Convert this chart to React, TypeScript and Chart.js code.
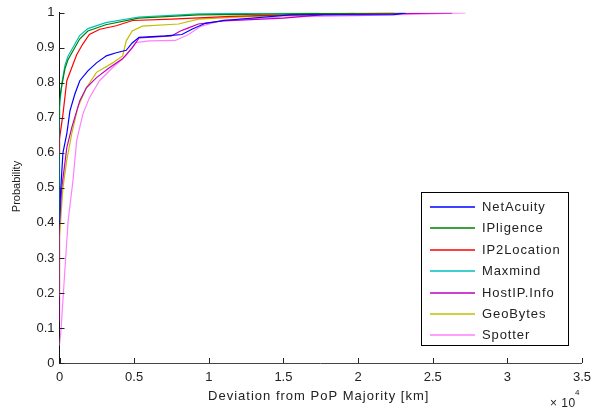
import { useEffect, useRef } from 'react'
import { Chart, registerables, Plugin } from 'chart.js'

Chart.register(...registerables)

// CDF of deviation from PoP majority (km)
const seriesNames = ['NetAcuity', 'IPligence', 'IP2Location', 'Maxmind', 'HostIP.Info', 'GeoBytes', 'Spotter']
const seriesColors = ['#0000ff', '#008000', '#ff0000', '#00bfbf', '#bf00bf', '#bfbf00', '#ff80ff']

const netAcuityX = [0, 60, 230, 490, 700, 1030, 1360, 1900, 2480, 3140, 3800, 4470, 4870, 5330, 7100, 8200, 8870, 9770, 11000, 15500, 22400, 23200]
const netAcuityY = [0.40, 0.48, 0.60, 0.655, 0.72, 0.768, 0.806, 0.834, 0.857, 0.877, 0.886, 0.893, 0.914, 0.93, 0.934, 0.938, 0.953, 0.97, 0.978, 0.994, 0.995, 1.0]

const ipligenceX = [0, 0, 100, 364, 560, 1350, 1900, 3100, 5300, 9300, 15500, 20000, 23000]
const ipligenceY = [0.70, 0.75, 0.78, 0.84, 0.865, 0.925, 0.948, 0.966, 0.985, 0.994, 0.997, 0.999, 1.0]

const ip2LocationX = [0, 0, 230, 490, 820, 1150, 1550, 2000, 2700, 3800, 4900, 7500, 11500, 16000, 19800, 22400]
const ip2LocationY = [0.60, 0.64, 0.71, 0.806, 0.843, 0.88, 0.91, 0.938, 0.953, 0.963, 0.978, 0.982, 0.99, 0.995, 0.997, 1.0]

const maxmindX = [0, 0, 160, 364, 560, 1350, 1900, 3100, 5300, 9300, 14000, 17400]
const maxmindY = [0.41, 0.73, 0.80, 0.85, 0.875, 0.935, 0.955, 0.972, 0.988, 0.997, 0.999, 1.0]

const hostIpX = [0, 0, 150, 490, 820, 1360, 1800, 2480, 3340, 4200, 4870, 5330, 7500, 8100, 8640, 9300, 11000, 15000, 17700, 26300]
const hostIpY = [0.12, 0.40, 0.50, 0.615, 0.672, 0.749, 0.786, 0.815, 0.843, 0.868, 0.90, 0.928, 0.934, 0.948, 0.957, 0.968, 0.977, 0.985, 0.995, 1.0]

const geoBytesX = [0, 0, 230, 490, 820, 1230, 1800, 2480, 3560, 4230, 4470, 4870, 5550, 7980, 9300, 13000, 18600, 19800]
const geoBytesY = [0.19, 0.36, 0.50, 0.58, 0.655, 0.73, 0.786, 0.83, 0.857, 0.877, 0.92, 0.948, 0.962, 0.968, 0.982, 0.99, 0.997, 1.0]

const spotterX = [0, 100, 360, 580, 900, 1150, 1560, 2000, 2680, 3550, 4450, 5100, 6000, 7760, 8640, 9500, 11000, 15000, 20000, 27200]
const spotterY = [0.05, 0.094, 0.265, 0.407, 0.52, 0.635, 0.71, 0.757, 0.806, 0.843, 0.877, 0.915, 0.92, 0.921, 0.938, 0.962, 0.98, 0.988, 0.992, 1.0]

const seriesX = [netAcuityX, ipligenceX, ip2LocationX, maxmindX, hostIpX, geoBytesX, spotterX]
const seriesY = [netAcuityY, ipligenceY, ip2LocationY, maxmindY, hostIpY, geoBytesY, spotterY]

const xTitle = 'Deviation from PoP Majority [km]'
const yTitle = 'Probability'
const FONT = '"Liberation Sans", Arial, sans-serif'

// inward tick marks, axis titles, exponent label and boxed legend
const decorPlugin: Plugin<'line'> = {
  id: 'decor',
  afterDatasetsDraw(chart) {
    const { ctx, chartArea } = chart
    const xs = chart.scales.x
    const ys = chart.scales.y
    ctx.save()
    ctx.strokeStyle = '#222'
    ctx.lineWidth = 1
    ctx.beginPath()
    xs.ticks.forEach((t) => {
      const px = Math.round(xs.getPixelForValue(t.value)) + 0.5
      ctx.moveTo(px, chartArea.bottom)
      ctx.lineTo(px, chartArea.bottom - 5)
    })
    ys.ticks.forEach((t) => {
      const py = Math.round(ys.getPixelForValue(t.value)) + 0.5
      ctx.moveTo(chartArea.left, py)
      ctx.lineTo(chartArea.left + 5, py)
    })
    ctx.stroke()

    ctx.fillStyle = '#222'
    ctx.textBaseline = 'middle'

    // x title
    ctx.font = `13px ${FONT}`
    ;(ctx as any).letterSpacing = '1px'
    ctx.textAlign = 'center'
    ctx.fillText(xTitle, (chartArea.left + chartArea.right) / 2 - 2, 396.5)

    // exponent
    ctx.textAlign = 'left'
    ;(ctx as any).letterSpacing = '0.5px'
    ctx.font = `12px ${FONT}`
    ctx.fillText('\u00d7 10', 550, 403.5)
    ctx.font = `8px ${FONT}`
    ctx.fillText('4', 575, 393)

    // y title
    ;(ctx as any).letterSpacing = '0px'
    ctx.save()
    ctx.translate(16.5, 186.5)
    ctx.rotate(-Math.PI / 2)
    ctx.textAlign = 'center'
    ctx.font = `11px ${FONT}`
    ctx.fillText(yTitle, 0, 0)
    ctx.restore()

    // legend
    const lx = 421.5, ly = 192.5, lw = 147, lh = 153
    ctx.fillStyle = '#ffffff'
    ctx.fillRect(lx, ly, lw, lh)
    ctx.strokeStyle = '#000'
    ctx.lineWidth = 1
    ctx.strokeRect(lx, ly, lw, lh)
    ctx.font = `13px ${FONT}`
    ;(ctx as any).letterSpacing = '0.9px'
    ctx.textAlign = 'left'
    seriesNames.forEach((name, i) => {
      const ry = 207 + i * 21.4
      ctx.strokeStyle = seriesColors[i]
      ctx.lineWidth = 1.6
      ctx.beginPath()
      ctx.moveTo(430, Math.round(ry))
      ctx.lineTo(475, Math.round(ry))
      ctx.stroke()
      ctx.fillStyle = '#222'
      ctx.fillText(name, 482, ry + 0.5)
    })
    ctx.restore()
  },
}

export default function App() {
  const canvasRef = useRef<HTMLCanvasElement>(null)
  const chartRef = useRef<Chart | null>(null)

  useEffect(() => {
    if (!canvasRef.current) return
    if (chartRef.current) chartRef.current.destroy()

    const datasets = seriesNames.map((name, i) => ({
      label: name,
      data: seriesX[i].map((x, j) => ({ x, y: seriesY[i][j] })),
      borderColor: seriesColors[i],
      backgroundColor: seriesColors[i],
      borderWidth: 1.2,
      pointRadius: 0,
      tension: 0,
      fill: false,
    }))

    chartRef.current = new Chart(canvasRef.current, {
      type: 'line',
      data: { datasets },
      options: {
        responsive: false,
        animation: false,
        layout: { padding: { top: 12, right: 11, left: 0, bottom: 0 } },
        plugins: {
          legend: { display: false },
          tooltip: { enabled: false },
        },
        scales: {
          x: {
            type: 'linear',
            min: 0,
            max: 35000,
            afterFit: (s) => { s.height = 52 },
            grid: { display: false, drawTicks: false },
            border: { display: true, color: '#444', width: 1 },
            ticks: {
              stepSize: 5000,
              padding: 7,
              color: '#222',
              font: { family: FONT, size: 13 },
              maxRotation: 0,
              callback: (v) => String(Number(v) / 10000),
            },
          },
          y: {
            type: 'linear',
            min: 0,
            max: 1,
            afterFit: (s) => { s.width = 59.5 },
            grid: { display: false, drawTicks: false },
            border: { display: true, color: '#111', width: 1 },
            ticks: {
              stepSize: 0.1,
              padding: 5,
              color: '#222',
              font: { family: FONT, size: 13 },
              callback: (v) => String(Math.round(Number(v) * 10) / 10),
            },
          },
        },
      },
      plugins: [decorPlugin],
    })

    return () => {
      if (chartRef.current) {
        chartRef.current.destroy()
        chartRef.current = null
      }
    }
  }, [])

  return (
    <div style={{ position: 'absolute', left: 0, top: 0, width: 598, height: 415, background: '#fff' }}>
      <canvas ref={canvasRef} width={598} height={415} style={{ display: 'block' }} />
    </div>
  )
}
